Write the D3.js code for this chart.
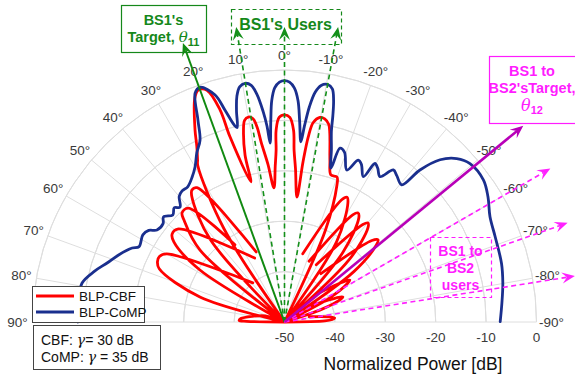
<!DOCTYPE html>
<html>
<head>
<meta charset="utf-8">
<script src="https://cdn.jsdelivr.net/npm/d3@7"></script>
<style>
  body { margin: 0; background: #fff; }
  svg { display: block; font-family: "Liberation Sans", Arial, sans-serif; }
</style>
</head>
<body>
<svg id="chart" width="575" height="379"></svg>
<script>
// angle ticks (deg, 0 = broadside, positive = left) and radial ticks (dB)
const angleTicks = d3.range(90, -91, -10);
const dbTicks = [-50, -40, -30, -20, -10, 0];

// BLP-CBF pattern, [angle deg, power dB]; null = curve clipped (gap)
const cbf = [
  [89.5, -50], [89, -42.5], [88, -41], [85.5, -41.3], [80, -43.5], [72, -46], [60, -50], null,
  [75, -50], [73.5, -32.5], [67, -23], [64.6, -22.1], [62.4, -22], [60, -23], [39, -40], null,
  [62, -50], [58.4, -30.3], [54.1, -22.9], [52, -21.7], [49, -21.9], [25, -36], null,
  [52, -50], [49.6, -28], [44.6, -21.6], [43.2, -20.3], [40.2, -20.4], [32.7, -31.8], null,
  [44, -50], [42, -28], [36.5, -19.1], [35, -18], [33.1, -18.2], [22, -35], null,
  [36, -50], [33, -28], [29, -14.5], [28.2, -13.5], [26.5, -11], [25, -8], [21.8, -2.1],
  [20.4, -0.9], [18.5, -1.5], [16.9, -6], [16.4, -11.7], [13.5, -21.4],
  [13.3, -16], [12.2, -11.5], [11.2, -9.2], [10, -8.7], [8.8, -9.2], [8, -11], [7.4, -14],
  [6, -18.5], [4.5, -23.3],
  [3.4, -19], [2.8, -15.9], [2.5, -11.9], [1.5, -9.4], [0, -8.9], [-1.5, -9.4], [-2.7, -11.9],
  [-3.2, -15.9], [-4.1, -19.5], [-5.7, -25.1],
  [-6.6, -18], [-7.3, -13], [-8.2, -10], [-9.8, -8.8], [-11.2, -8.9], [-12.6, -9.8],
  [-13.5, -11.5], [-15.7, -16.7],
  [-17.5, -19.4], [-19.9, -19.4], [-21, -21], [-24, -30], [-26, -50], null,
  [-15, -36], [-25, -23.3], [-26.6, -22.3], [-28, -23.2], [-33, -31], [-36, -50], null,
  [-22, -37], [-32.5, -24.8], [-34, -23.9], [-35.5, -24.6], [-40, -32], [-43, -50], null,
  [-29, -37], [-38.8, -25.2], [-40.1, -24.3], [-41.5, -25], [-46, -32], [-49, -50], null,
  [-37, -38], [-47, -26.3], [-48.7, -25.3], [-50, -26.2], [-54, -33], [-57, -50], null,
  [-48, -42], [-56, -35.5], [-57.3, -34.6], [-58.5, -35.3], [-62, -40], [-65, -50], null,
  [-58, -44], [-65.5, -38.2], [-66.9, -37.4], [-68, -38], [-71, -42], [-74, -50], null,
  [-78, -45], [-84, -40.6], [-85.5, -40], [-87, -40.5], [-88.5, -42], [-89.5, -50]
];

// BLP-CoMP pattern, [angle deg, power dB]
const comp = [
  [90, -9], [84, -9], [79.1, -9.1], [75, -11], [71.6, -12.9], [68, -14.5], [64.1, -16.4],
  [62.6, -17.5], [58.4, -17], [56, -17.5], [54.2, -18.8], [51, -19], [49, -18.2],
  [46.2, -19.3], [44, -18.5], [42.3, -19.2], [40, -17.5], [38, -17], [35.6, -17],
  [32.5, -15.9], [30, -14.5], [27.4, -12.2], [24.9, -10.2], [23.2, -6.4], [21.3, -1.2],
  [19.8, -0.5], [17, -2.9], [15.7, -6.3], [14.3, -9.7], [13.7, -10.3],
  [12.8, -7], [11.9, -4.2], [10.8, -2.5], [9.4, -2], [8, -2.6], [6.9, -4.5], [5.8, -8],
  [5.1, -11], [4.6, -14.4],
  [3.9, -10], [3.3, -6], [2.4, -3.5], [1.2, -2.4], [0, -2.1], [-1.2, -2.4], [-2.4, -3.5],
  [-3.5, -6], [-4.3, -10], [-5.2, -14.1],
  [-5.8, -11], [-6.6, -7], [-7.6, -4], [-8.8, -2.5], [-10.3, -2.1], [-11.6, -2.8],
  [-12.5, -5], [-13.2, -8], [-13.8, -11], [-15.2, -14.5], [-16.8, -18.1],
  [-17.7, -13.8], [-19.5, -14.3], [-22.3, -17.4], [-24.5, -14.7],
  [-26, -15.2], [-28.5, -17.2], [-29.7, -13.8], [-31.2, -14.3], [-33.3, -15.5],
  [-35.6, -12.9], [-37.5, -13.4], [-40.5, -14.2], [-41.7, -9.6], [-43.8, -5.4],
  [-46.5, -2.9], [-49.5, -1.6], [-54.5, -1.5], [-58.4, -2.6], [-62.9, -4.2],
  [-67.9, -4.9], [-74.9, -5.4], [-79.9, -6], [-85, -6.7], [-89.9, -7.2]
];

// annotated directions (deg)
const bs1TargetAngle = 20;
const bs1UserAngles = [9.3, 0, -10.3];
const bs2TargetAngle = -50.6;
const bs2UserAngles = [-60, -70.7, -81];

const svg = d3.select("#chart");
const cx = 284.5, cy = 322, R = 252;

const r = d3.scaleLinear().domain([-50, 0]).range([0, R]);
const a = d3.scaleLinear().domain([-90, 90]).range([Math.PI / 2, -Math.PI / 2]);

const px = (deg, rad) => [cx + rad * Math.sin(a(deg)), cy - rad * Math.cos(a(deg))];

const g = svg.append("g");

// grid
const grid = g.append("g").attr("stroke", "#dedede").attr("fill", "none").attr("stroke-width", 1);
dbTicks.slice(1).forEach(v => {
  grid.append("path")
    .attr("d", d3.arc()({ innerRadius: r(v), outerRadius: r(v), startAngle: -Math.PI / 2, endAngle: Math.PI / 2 }))
    .attr("transform", `translate(${cx},${cy})`);
});
angleTicks.forEach(t => {
  const [x, y] = px(t, R);
  grid.append("line").attr("x1", cx).attr("y1", cy).attr("x2", x).attr("y2", y);
});

// angle labels
g.append("g").selectAll("text").data(angleTicks).join("text")
  .attr("x", d => px(d, R + 15)[0])
  .attr("y", d => px(d, R + 15)[1])
  .attr("text-anchor", "middle")
  .attr("dominant-baseline", "central")
  .attr("font-size", 13.5)
  .attr("fill", "#3a3a3a")
  .text(d => d + "°");

// radial tick labels
g.append("g").selectAll("text").data(dbTicks).join("text")
  .attr("x", d => cx + r(d))
  .attr("y", cy + 15)
  .attr("text-anchor", "middle")
  .attr("dominant-baseline", "central")
  .attr("font-size", 13.5)
  .attr("fill", "#3a3a3a")
  .text(d => d);

g.append("text")
  .attr("x", 413).attr("y", 364)
  .attr("text-anchor", "middle")
  .attr("dominant-baseline", "central")
  .attr("font-size", 17.5)
  .attr("fill", "#111")
  .text("Normalized Power [dB]");

// curves
const radial = d3.lineRadial()
  .defined(d => d !== null)
  .angle(d => a(d[0]))
  .radius(d => r(Math.max(-50, d[1])))
  .curve(d3.curveCatmullRom.alpha(0.5));

const curves = g.append("g").attr("transform", `translate(${cx},${cy})`).attr("fill", "none")
  .attr("stroke-linejoin", "round").attr("stroke-linecap", "round");
curves.append("path").attr("d", radial(cbf)).attr("stroke", "#ff0000").attr("stroke-width", 2.8);
curves.append("path").attr("d", radial(comp)).attr("stroke", "#1a2f8e").attr("stroke-width", 2.8);

// arrows
function arrow(deg, len, color, width, dash) {
  const [x1, y1] = px(deg, len);
  const ux = (x1 - cx) / len, uy = (y1 - cy) / len;
  const nx = -uy, ny = ux;
  const L = 13, W = 5.5;
  const bx = x1 - L * ux, by = y1 - L * uy;
  const mx = x1 - 0.62 * L * ux, my = y1 - 0.62 * L * uy;
  g.append("line")
    .attr("x1", cx).attr("y1", cy).attr("x2", mx).attr("y2", my)
    .attr("stroke", color).attr("stroke-width", width)
    .attr("stroke-dasharray", dash || null);
  g.append("path")
    .attr("d", `M${x1},${y1}L${bx + W * nx},${by + W * ny}L${mx},${my}L${bx - W * nx},${by - W * ny}Z`)
    .attr("fill", color);
}

bs1UserAngles.forEach(d => arrow(d, 295 / Math.cos(d * Math.PI / 180), "#14901a", 1.6, "5,3.5"));
arrow(bs1TargetAngle, 297, "#118a11", 2);
const bs2Len = [307, 300, 294];
bs2UserAngles.forEach((d, i) => arrow(d, bs2Len[i], "#ff22ff", 1.6, "5,3.5"));
arrow(bs2TargetAngle, 309, "#b800b8", 2.6);

// annotation boxes
const green = "#15881a", magenta = "#ff1cff";

g.append("rect").attr("x", 121.5).attr("y", 5.5).attr("width", 85).attr("height", 47)
  .attr("fill", "none").attr("stroke", green).attr("stroke-width", 1.2);
g.append("text").attr("x", 163.5).attr("y", 20).attr("text-anchor", "middle").attr("dominant-baseline", "central")
  .attr("font-size", 14.5).attr("font-weight", "bold").attr("fill", green).text("BS1's");
const t1 = g.append("text").attr("x", 163.5).attr("y", 37).attr("text-anchor", "middle")
  .attr("dominant-baseline", "central").attr("font-size", 14.5).attr("font-weight", "bold").attr("fill", green);
t1.append("tspan").text("Target, ");
t1.append("tspan").attr("font-family", "'DejaVu Serif', serif").attr("font-style", "italic").attr("font-weight", "normal").attr("font-size", 15).text("θ");
t1.append("tspan").attr("dy", 5).attr("font-size", 11).text("11");

g.append("rect").attr("x", 231.5).attr("y", 9.5).attr("width", 110).attr("height", 35)
  .attr("fill", "none").attr("stroke", green).attr("stroke-width", 1.2).attr("stroke-dasharray", "4,3");
g.append("text").attr("x", 285.5).attr("y", 24).attr("text-anchor", "middle").attr("dominant-baseline", "central")
  .attr("font-size", 16).attr("font-weight", "bold").attr("fill", green).text("BS1's Users");

g.append("rect").attr("x", 489.5).attr("y", 56.5).attr("width", 90).attr("height", 67)
  .attr("fill", "none").attr("stroke", magenta).attr("stroke-width", 1.2);
["BS1 to", "BS2'sTarget,"].forEach((s, i) => {
  g.append("text").attr("x", 532).attr("y", 71 + i * 17).attr("text-anchor", "middle").attr("dominant-baseline", "central")
    .attr("font-size", 14.5).attr("font-weight", "bold").attr("fill", magenta).text(s);
});
const t2 = g.append("text").attr("x", 532).attr("y", 105).attr("text-anchor", "middle")
  .attr("dominant-baseline", "central").attr("font-size", 14.5).attr("font-weight", "bold").attr("fill", magenta);
t2.append("tspan").attr("font-family", "'DejaVu Serif', serif").attr("font-style", "italic").attr("font-weight", "normal").attr("font-size", 16).text("θ");
t2.append("tspan").attr("dy", 5).attr("font-size", 11).text("12");

g.append("rect").attr("x", 430.5).attr("y", 237.5).attr("width", 61).attr("height", 60)
  .attr("fill", "none").attr("stroke", magenta).attr("stroke-width", 1.2).attr("stroke-dasharray", "4,3");
["BS1 to", "BS2", "users"].forEach((s, i) => {
  g.append("text").attr("x", 460.5).attr("y", 251 + i * 17).attr("text-anchor", "middle").attr("dominant-baseline", "central")
    .attr("font-size", 14).attr("font-weight", "bold").attr("fill", magenta).text(s);
});

// legend
const leg = g.append("g");
leg.append("rect").attr("x", 32.5).attr("y", 286.5).attr("width", 112).attr("height", 36)
  .attr("fill", "#fff").attr("stroke", "#444").attr("stroke-width", 1);
[["BLP-CBF", "#ff0000"], ["BLP-CoMP", "#1a2f8e"]].forEach(([name, c], i) => {
  const y = 296 + i * 16;
  leg.append("line").attr("x1", 36).attr("x2", 74).attr("y1", y).attr("y2", y).attr("stroke", c).attr("stroke-width", 2.8);
  leg.append("text").attr("x", 79).attr("y", y).attr("dominant-baseline", "central").attr("font-size", 13.5).attr("fill", "#111").text(name);
});

const note = g.append("g");
note.append("rect").attr("x", 33.5).attr("y", 325.5).attr("width", 127).attr("height", 44)
  .attr("fill", "#fff").attr("stroke", "#444").attr("stroke-width", 1);
[["CBF: ", "= 30 dB"], ["CoMP: ", " = 35 dB"]].forEach(([pre, post], i) => {
  const t = note.append("text").attr("x", 41).attr("y", 340 + i * 17).attr("dominant-baseline", "central")
    .attr("font-size", 14).attr("fill", "#111");
  t.append("tspan").text(pre);
  t.append("tspan").attr("font-family", "'DejaVu Serif', serif").attr("font-style", "italic").text("γ");
  t.append("tspan").text(post);
});
</script>
</body>
</html>
